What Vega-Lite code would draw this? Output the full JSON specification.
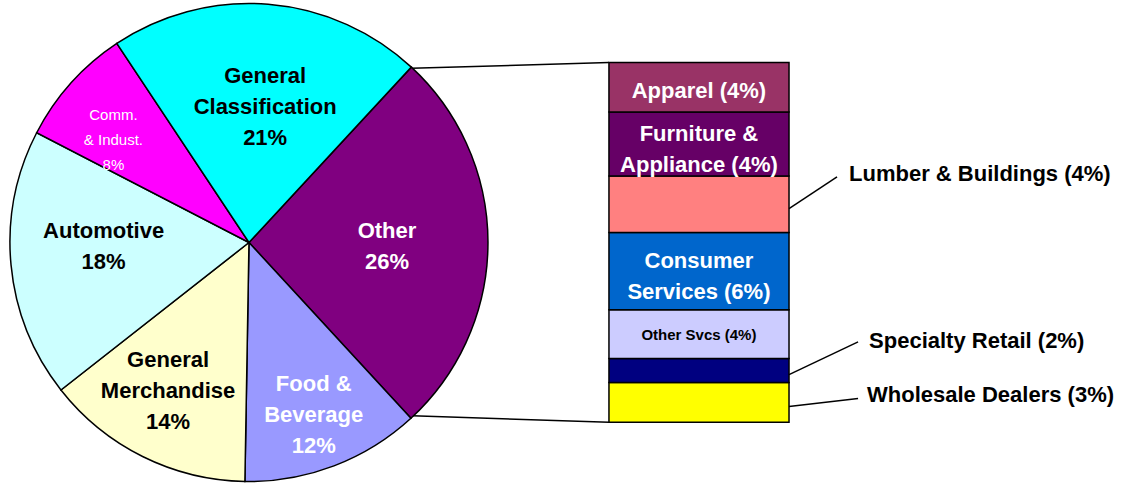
{
  "$schema": "https://vega.github.io/schema/vega-lite/v6.json",
  "width": 1136,
  "height": 484,
  "autosize": {"type": "fit", "contains": "padding"},
  "padding": 0,
  "background": "white",
  "config": {"view": {"stroke": null}, "text": {"font": "Liberation Sans", "lineBreak": "\n"}},
  "datasets": {
    "pie": [
      {"category": "Other", "pct": 26, "seq": 1, "label": "Other\n26%"},
      {"category": "Food & Beverage", "pct": 12, "seq": 2, "label": "Food &\nBeverage\n12%"},
      {"category": "General Merchandise", "pct": 14, "seq": 3, "label": "General\nMerchandise\n14%"},
      {"category": "Automotive", "pct": 18, "seq": 4, "label": "Automotive\n18%"},
      {"category": "Comm. & Indust.", "pct": 8, "seq": 5, "label": "Comm.\n& Indust.\n8%"},
      {"category": "General Classification", "pct": 21, "seq": 6, "label": "General\nClassification\n21%"}
    ],
    "bar": [
      {"category": "Wholesale Dealers", "pct": 3.0, "seq": 1, "label": ""},
      {"category": "Specialty Retail", "pct": 1.8, "seq": 2, "label": ""},
      {"category": "Other Svcs", "pct": 3.65, "seq": 3, "label": "Other Svcs (4%)"},
      {"category": "Consumer Services", "pct": 5.8, "seq": 4, "label": "Consumer\nServices (6%)"},
      {"category": "Lumber & Buildings", "pct": 4.25, "seq": 5, "label": ""},
      {"category": "Furniture & Appliance", "pct": 4.8, "seq": 6, "label": "Furniture &\nAppliance (4%)"},
      {"category": "Apparel", "pct": 3.7, "seq": 7, "label": "Apparel (4%)"}
    ],
    "links": [
      {"x": 30.69, "y": 26.58, "x2": 45.42, "y2": 27.0},
      {"x": 30.75, "y": 0.5, "x2": 45.42, "y2": 0.0}
    ],
    "callouts": [
      {"text": "Lumber & Buildings (4%)", "x0": 58.85, "y0": 16.04, "x1": 62.43, "y1": 18.42, "tx": 63.33, "ty": 18.65},
      {"text": "Specialty Retail (2%)", "x0": 58.85, "y0": 3.58, "x1": 64.0, "y1": 6.04, "tx": 64.82, "ty": 6.12},
      {"text": "Wholesale Dealers (3%)", "x0": 58.85, "y0": 1.19, "x1": 64.0, "y1": 1.79, "tx": 64.67, "ty": 2.09}
    ]
  },
  "layer": [
    {
      "data": {"name": "links"},
      "mark": {"type": "rule", "stroke": "black", "strokeWidth": 1.5},
      "encoding": {
        "x": {"field": "x", "type": "quantitative", "scale": {"domain": [0, 84.73], "nice": false, "zero": false}, "axis": null},
        "y": {"field": "y", "type": "quantitative", "scale": {"domain": [-4.4, 31.7], "nice": false, "zero": false}, "axis": null},
        "x2": {"field": "x2"},
        "y2": {"field": "y2"}
      }
    },
    {
      "data": {"name": "pie"},
      "mark": {"type": "arc", "outerRadius": 239, "stroke": "black", "strokeWidth": 1.5},
      "encoding": {
        "x": {"datum": 18.57, "type": "quantitative", "scale": {"domain": [0, 84.73], "nice": false, "zero": false}, "axis": null},
        "y": {"datum": 13.5, "type": "quantitative", "scale": {"domain": [-4.4, 31.7], "nice": false, "zero": false}, "axis": null},
        "theta": {"field": "pct", "type": "quantitative", "stack": true, "scale": {"range": [0.747, 7.030]}},
        "order": {"field": "seq", "type": "quantitative"},
        "color": {
          "field": "category", "type": "nominal", "legend": null,
          "scale": {
            "domain": ["Other", "Food & Beverage", "General Merchandise", "Automotive", "Comm. & Indust.", "General Classification", "Apparel", "Furniture & Appliance", "Lumber & Buildings", "Consumer Services", "Other Svcs", "Specialty Retail", "Wholesale Dealers"],
            "range": ["#800080", "#9999FF", "#FFFFCC", "#CCFFFF", "#FF00FF", "#00FFFF", "#993366", "#660066", "#FF8080", "#0066CC", "#CCCCFF", "#000080", "#FFFF00"]
          }
        }
      }
    },
    {
      "data": {"name": "pie"},
      "mark": {"type": "text", "radius": 139, "dx": 5, "dy": -28, "fontSize": 22, "fontWeight": "bold", "lineHeight": 31, "align": "center", "baseline": "middle", "fill": "black"},
      "encoding": {
        "x": {"datum": 18.57, "type": "quantitative", "scale": {"domain": [0, 84.73], "nice": false, "zero": false}, "axis": null},
        "y": {"datum": 13.5, "type": "quantitative", "scale": {"domain": [-4.4, 31.7], "nice": false, "zero": false}, "axis": null},
        "theta": {"field": "pct", "type": "quantitative", "stack": true},
        "order": {"field": "seq", "type": "quantitative"},
        "text": {"condition": {"test": "datum.category === 'General Classification'", "field": "label"}, "value": ""}
      }
    },
    {
      "data": {"name": "pie"},
      "mark": {"type": "text", "radius": 182, "dy": -29, "fontSize": 22, "fontWeight": "bold", "lineHeight": 31, "align": "center", "baseline": "middle", "fill": "white"},
      "encoding": {
        "x": {"datum": 18.57, "type": "quantitative", "scale": {"domain": [0, 84.73], "nice": false, "zero": false}, "axis": null},
        "y": {"datum": 13.5, "type": "quantitative", "scale": {"domain": [-4.4, 31.7], "nice": false, "zero": false}, "axis": null},
        "theta": {"field": "pct", "type": "quantitative", "stack": true},
        "order": {"field": "seq", "type": "quantitative"},
        "text": {"condition": {"test": "datum.category === 'Food & Beverage'", "field": "label"}, "value": ""}
      }
    },
    {
      "data": {"name": "pie"},
      "mark": {"type": "text", "radius": 166, "dx": -7, "dy": -31, "fontSize": 22, "fontWeight": "bold", "lineHeight": 31, "align": "center", "baseline": "middle", "fill": "black"},
      "encoding": {
        "x": {"datum": 18.57, "type": "quantitative", "scale": {"domain": [0, 84.73], "nice": false, "zero": false}, "axis": null},
        "y": {"datum": 13.5, "type": "quantitative", "scale": {"domain": [-4.4, 31.7], "nice": false, "zero": false}, "axis": null},
        "theta": {"field": "pct", "type": "quantitative", "stack": true},
        "order": {"field": "seq", "type": "quantitative"},
        "text": {"condition": {"test": "datum.category === 'General Merchandise'", "field": "label"}, "value": ""}
      }
    },
    {
      "data": {"name": "pie"},
      "mark": {"type": "text", "radius": 140, "dx": -2, "dy": -12, "fontSize": 22, "fontWeight": "bold", "lineHeight": 31, "align": "center", "baseline": "middle", "fill": "white"},
      "encoding": {
        "x": {"datum": 18.57, "type": "quantitative", "scale": {"domain": [0, 84.73], "nice": false, "zero": false}, "axis": null},
        "y": {"datum": 13.5, "type": "quantitative", "scale": {"domain": [-4.4, 31.7], "nice": false, "zero": false}, "axis": null},
        "theta": {"field": "pct", "type": "quantitative", "stack": true},
        "order": {"field": "seq", "type": "quantitative"},
        "text": {"condition": {"test": "datum.category === 'Other'", "field": "label"}, "value": ""}
      }
    },
    {
      "data": {"name": "pie"},
      "mark": {"type": "text", "radius": 146, "dy": -25, "fontSize": 22, "fontWeight": "bold", "lineHeight": 31, "align": "center", "baseline": "middle", "fill": "black"},
      "encoding": {
        "x": {"datum": 18.57, "type": "quantitative", "scale": {"domain": [0, 84.73], "nice": false, "zero": false}, "axis": null},
        "y": {"datum": 13.5, "type": "quantitative", "scale": {"domain": [-4.4, 31.7], "nice": false, "zero": false}, "axis": null},
        "theta": {"field": "pct", "type": "quantitative", "stack": true},
        "order": {"field": "seq", "type": "quantitative"},
        "text": {"condition": {"test": "datum.category === 'Automotive'", "field": "label"}, "value": ""}
      }
    },
    {
      "data": {"name": "pie"},
      "mark": {"type": "text", "radius": 170, "dx": -9, "dy": -14, "fontSize": 15, "fontWeight": "normal", "lineHeight": 25, "align": "center", "baseline": "middle", "fill": "white"},
      "encoding": {
        "x": {"datum": 18.57, "type": "quantitative", "scale": {"domain": [0, 84.73], "nice": false, "zero": false}, "axis": null},
        "y": {"datum": 13.5, "type": "quantitative", "scale": {"domain": [-4.4, 31.7], "nice": false, "zero": false}, "axis": null},
        "theta": {"field": "pct", "type": "quantitative", "stack": true},
        "order": {"field": "seq", "type": "quantitative"},
        "text": {"condition": {"test": "datum.category === 'Comm. & Indust.'", "field": "label"}, "value": ""}
      }
    },
    {
      "data": {"name": "bar"},
      "transform": [{"stack": "pct", "groupby": [], "sort": [{"field": "seq", "order": "ascending"}], "as": ["y0", "y1"]}],
      "mark": {"type": "rect", "stroke": "black", "strokeWidth": 1.5},
      "encoding": {
        "x": {"datum": 45.42, "type": "quantitative", "scale": {"domain": [0, 84.73], "nice": false, "zero": false}, "axis": null},
        "x2": {"datum": 58.85},
        "y": {"field": "y0", "type": "quantitative", "scale": {"domain": [-4.4, 31.7], "nice": false, "zero": false}, "axis": null},
        "y2": {"field": "y1"},
        "color": {"field": "category", "type": "nominal", "legend": null}
      }
    },
    {
      "data": {"name": "bar"},
      "transform": [
        {"stack": "pct", "groupby": [], "sort": [{"field": "seq", "order": "ascending"}], "as": ["y0", "y1"]},
        {"fold": ["y0", "y1"], "as": ["edge", "v"]},
        {"aggregate": [{"op": "mean", "field": "v", "as": "mid"}], "groupby": ["category", "label"]},
        {"filter": "datum.category === 'Apparel'"}
      ],
      "mark": {"type": "text", "dy": 3.5, "fontSize": 22, "fontWeight": "bold", "align": "center", "baseline": "middle", "fill": "white"},
      "encoding": {
        "x": {"datum": 52.13, "type": "quantitative", "scale": {"domain": [0, 84.73], "nice": false, "zero": false}, "axis": null},
        "y": {"field": "mid", "type": "quantitative", "scale": {"domain": [-4.4, 31.7], "nice": false, "zero": false}, "axis": null},
        "text": {"field": "label"}
      }
    },
    {
      "data": {"name": "bar"},
      "transform": [
        {"stack": "pct", "groupby": [], "sort": [{"field": "seq", "order": "ascending"}], "as": ["y0", "y1"]},
        {"fold": ["y0", "y1"], "as": ["edge", "v"]},
        {"aggregate": [{"op": "mean", "field": "v", "as": "mid"}], "groupby": ["category", "label"]},
        {"filter": "indexof(['Furniture & Appliance','Consumer Services'], datum.category) >= 0"}
      ],
      "mark": {"type": "text", "dy": -10, "fontSize": 22, "fontWeight": "bold", "lineHeight": 31, "align": "center", "baseline": "middle", "fill": "white"},
      "encoding": {
        "x": {"datum": 52.13, "type": "quantitative", "scale": {"domain": [0, 84.73], "nice": false, "zero": false}, "axis": null},
        "y": {"field": "mid", "type": "quantitative", "scale": {"domain": [-4.4, 31.7], "nice": false, "zero": false}, "axis": null},
        "text": {"field": "label"}
      }
    },
    {
      "data": {"name": "bar"},
      "transform": [
        {"stack": "pct", "groupby": [], "sort": [{"field": "seq", "order": "ascending"}], "as": ["y0", "y1"]},
        {"fold": ["y0", "y1"], "as": ["edge", "v"]},
        {"aggregate": [{"op": "mean", "field": "v", "as": "mid"}], "groupby": ["category", "label"]},
        {"filter": "datum.category === 'Other Svcs'"}
      ],
      "mark": {"type": "text", "dy": 1, "fontSize": 15, "fontWeight": "bold", "align": "center", "baseline": "middle", "fill": "black"},
      "encoding": {
        "x": {"datum": 52.13, "type": "quantitative", "scale": {"domain": [0, 84.73], "nice": false, "zero": false}, "axis": null},
        "y": {"field": "mid", "type": "quantitative", "scale": {"domain": [-4.4, 31.7], "nice": false, "zero": false}, "axis": null},
        "text": {"field": "label"}
      }
    },
    {
      "data": {"name": "callouts"},
      "mark": {"type": "rule", "stroke": "black", "strokeWidth": 1.5},
      "encoding": {
        "x": {"field": "x0", "type": "quantitative", "scale": {"domain": [0, 84.73], "nice": false, "zero": false}, "axis": null},
        "y": {"field": "y0", "type": "quantitative", "scale": {"domain": [-4.4, 31.7], "nice": false, "zero": false}, "axis": null},
        "x2": {"field": "x1"},
        "y2": {"field": "y1"}
      }
    },
    {
      "data": {"name": "callouts"},
      "mark": {"type": "text", "fontSize": 22, "fontWeight": "bold", "align": "left", "baseline": "middle", "fill": "black"},
      "encoding": {
        "x": {"field": "tx", "type": "quantitative", "scale": {"domain": [0, 84.73], "nice": false, "zero": false}, "axis": null},
        "y": {"field": "ty", "type": "quantitative", "scale": {"domain": [-4.4, 31.7], "nice": false, "zero": false}, "axis": null},
        "text": {"field": "text"}
      }
    }
  ]
}
